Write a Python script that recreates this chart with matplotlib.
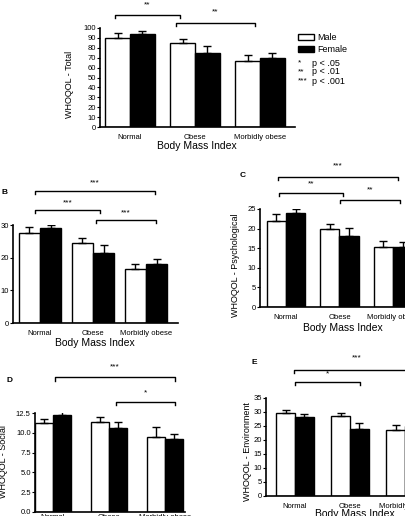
import matplotlib
matplotlib.use("Agg")
import matplotlib.pyplot as plt
from matplotlib.patches import Patch

plt.rcParams['font.family'] = ['Liberation Sans', 'DejaVu Sans']

groups = ["Normal", "Obese", "Morbidly obese"]

total_male = [90, 85, 67]
total_female = [94, 75, 70]
total_male_err = [5, 4, 6]
total_female_err = [3, 7, 5]

phys_male = [27.5, 24.5, 16.5]
phys_female = [29, 21.5, 18]
phys_male_err = [2, 1.5, 1.5]
phys_female_err = [1, 2.5, 1.5]

psych_male = [22, 20, 15.3]
psych_female = [24, 18, 15.2]
psych_male_err = [1.7, 1.2, 1.6]
psych_female_err = [0.9, 2.2, 1.4]

social_male = [11.2, 11.4, 9.5]
social_female = [12.3, 10.6, 9.2]
social_male_err = [0.6, 0.6, 1.2]
social_female_err = [0.5, 0.8, 0.7]

env_male = [29.5, 28.5, 23.5]
env_female = [28.3, 24, 25]
env_male_err = [1.2, 1.2, 2.0]
env_female_err = [1.0, 2.2, 1.5]

W, H = 406, 516
fig = plt.figure(figsize=(W / 100, H / 100), dpi=100)


def make_ax(x0, x1, y_top, y_bot, ymax, c0, sp, xpad=5):
    ax = fig.add_axes([x0 / W, 1 - y_bot / H, (x1 - x0) / W, (y_bot - y_top) / H])
    ax.set_xlim((x0 - c0) / sp, (x1 - c0) / sp)
    ax.set_ylim(0, ymax)
    for s in ["top", "right"]:
        ax.spines[s].set_visible(False)
    for s in ["left", "bottom"]:
        ax.spines[s].set_linewidth(1.2)
    ax.tick_params(axis="y", labelsize=5.5, length=2, width=0.8, pad=1)
    ax.tick_params(axis="x", labelsize=5.5, length=0, pad=xpad)
    return ax


def bars(ax, male, female, merr, ferr, w=0.36):
    pos = list(range(len(groups)))
    ax.bar([p - w / 2 for p in pos], male, w, color="white", edgecolor="black", linewidth=1,
           yerr=[[0] * 3, merr], capsize=3, error_kw=dict(elinewidth=1, capthick=1))
    ax.bar([p + w / 2 for p in pos], female, w, color="black", edgecolor="black", linewidth=1,
           yerr=[[0] * 3, ferr], capsize=3, error_kw=dict(elinewidth=1, capthick=1))
    ax.set_xticks(pos)
    ax.set_xticklabels(groups)


def bracket(ax, x1, x2, y, ty, label, h=None):
    if h is None:
        h = (ax.get_ylim()[1]) * 0.03
    ax.plot([x1, x1, x2, x2], [y - h, y, y, y - h], color="black", lw=1, clip_on=False)
    ax.text((x1 + x2) / 2, ty, label, ha="center", va="center", fontsize=6, clip_on=False)


# A - total
axA = make_ax(100, 295, 28, 127, 100, 130, 65)
bars(axA, total_male, total_female, total_male_err, total_female_err, w=0.38)
axA.set_yticks(range(0, 101, 10))
bracket(axA, -0.23, 0.77, 113, 123, "**")
bracket(axA, 0.71, 1.92, 105, 116, "**")
fig.text(70 / W, 1 - 84 / H, "WHOQOL - Total", rotation=90, ha="center", va="center", fontsize=6.5)
fig.text(197 / W, 1 - 146 / H, "Body Mass Index", ha="center", va="center", fontsize=7.5)

# legend and key
fig.legend(handles=[Patch(facecolor="white", edgecolor="black", label="Male"),
                    Patch(facecolor="black", edgecolor="black", label="Female")],
           loc="upper left", bbox_to_anchor=(290 / W, 1 - 25 / H), frameon=False,
           fontsize=6.5, handlelength=1.8, handleheight=0.6, handletextpad=0.3, labelspacing=0.3)
for y, s, t in [(63, "*", "p < .05"), (72, "**", "p < .01"), (81, "***", "p < .001")]:
    fig.text(298 / W, 1 - y / H, s, ha="left", va="center", fontsize=6)
    fig.text(312 / W, 1 - y / H, t, ha="left", va="center", fontsize=6.5)

# B - physical
axB = make_ax(13, 178, 225, 323, 30, 40, 53)
bars(axB, phys_male, phys_female, phys_male_err, phys_female_err, w=0.4)
axB.set_yticks([0, 10, 20, 30])
bracket(axB, -0.09, 2.17, 40.4, 42.8, "***", h=1)
bracket(axB, -0.09, 1.13, 34.6, 36.8, "***", h=1)
bracket(axB, 1.06, 2.19, 31.5, 33.8, "***", h=1)
fig.text(95 / W, 1 - 343 / H, "Body Mass Index", ha="center", va="center", fontsize=7.5)
fig.text(2 / W, 1 - 192 / H, "B", ha="left", va="center", fontsize=6, fontweight="bold")

# C - psychological
axC = make_ax(260, 430, 209, 307, 25, 286, 53.5)
bars(axC, psych_male, psych_female, psych_male_err, psych_female_err)
axC.set_yticks(range(0, 26, 5))
bracket(axC, -0.15, 2.09, 33.2, 36, "***", h=0.8)
bracket(axC, -0.13, 1.07, 29.1, 31.5, "**", h=0.8)
bracket(axC, 1.01, 2.13, 27.3, 29.9, "**", h=0.8)
fig.text(236 / W, 1 - 265 / H, "WHOQOL - Psychological", rotation=90, ha="center", va="center", fontsize=6.5)
fig.text(343 / W, 1 - 328 / H, "Body Mass Index", ha="center", va="center", fontsize=7.5)
fig.text(243 / W, 1 - 176 / H, "C", ha="center", va="center", fontsize=6, fontweight="bold")

# D - social
axD = make_ax(35, 185, 413, 512, 12.5, 53, 56, xpad=1.5)
bars(axD, social_male, social_female, social_male_err, social_female_err, w=0.32)
axD.set_yticks([0, 2.5, 5, 7.5, 10, 12.5])
axD.set_yticklabels(["0.0", "2.5", "5.0", "7.5", "10.0", "12.5"])
bracket(axD, 0.04, 2.18, 17.0, 18.3, "***", h=0.4)
bracket(axD, 1.13, 2.18, 13.9, 15.0, "*", h=0.4)
fig.text(4 / W, 1 - 462 / H, "WHOQOL - Social", rotation=90, ha="center", va="center", fontsize=6.5)
fig.text(10 / W, 1 - 381 / H, "D", ha="center", va="center", fontsize=6, fontweight="bold")

# E - environment
axE = make_ax(266, 430, 398, 496, 35, 295, 55)
bars(axE, env_male, env_female, env_male_err, env_female_err, w=0.34)
axE.set_yticks(range(0, 36, 5))
bracket(axE, -0.02, 2.27, 45, 49.3, "***", h=1)
bracket(axE, 0.0, 1.18, 40.7, 43.6, "*", h=1)
fig.text(248 / W, 1 - 452 / H, "WHOQOL - Environment", rotation=90, ha="center", va="center", fontsize=6.5)
fig.text(355 / W, 1 - 514 / H, "Body Mass Index", ha="center", va="center", fontsize=7.5)
fig.text(254 / W, 1 - 363 / H, "E", ha="center", va="center", fontsize=6, fontweight="bold")

fig.savefig("out.png", dpi=100)
